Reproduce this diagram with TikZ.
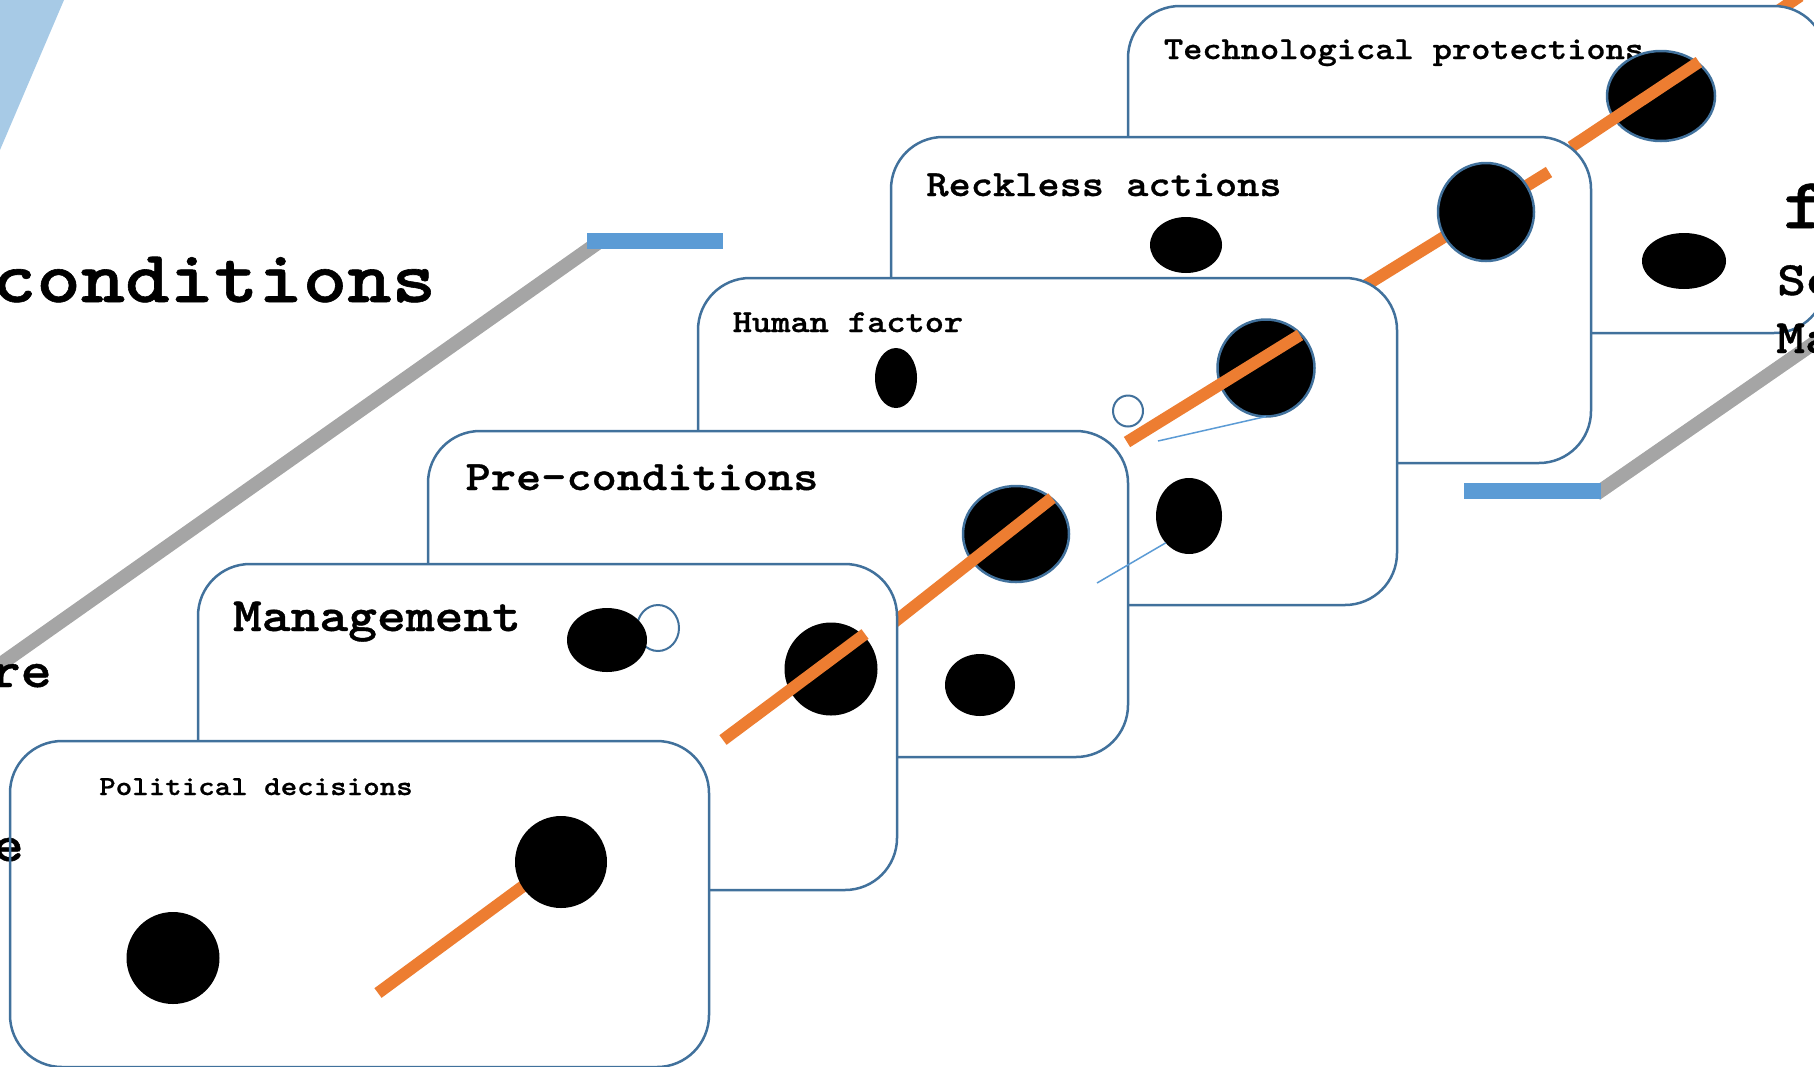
\documentclass[tikz,border=0pt]{standalone}
\usepackage{fontspec}
\usetikzlibrary{shapes.geometric}

\definecolor{cardblue}{HTML}{41719C}
\definecolor{linkblue}{HTML}{5B9BD5}
\definecolor{barblue}{HTML}{5B9BD5}
\definecolor{shelfgray}{HTML}{A5A5A5}
\definecolor{trajorange}{HTML}{ED7D31}
\definecolor{wedgeblue}{HTML}{A7CAE6}

% heavy slab monospace, widened to Courier-like advance widths
\newfontfamily\slabmono{lmmonolt10-bold.otf}[FakeStretch=1.143, FakeBold=0.8]
\newcommand\typesz[1]{\slabmono\fontsize{#1}{#1}\selectfont}

\tikzset{
  card/.style={draw=cardblue, line width=2.5pt, fill=white, rounded corners=52pt},
  cardedge/.style={draw=cardblue, line width=2.5pt, rounded corners=52pt},
  cardfill/.style={fill=white, rounded corners=52pt},
  hole/.style={ellipse, fill=black, inner sep=0pt, outer sep=0pt},
  rimhole/.style={ellipse, fill=black, draw=cardblue, line width=2.5pt, inner sep=0pt, outer sep=0pt},
  ring/.style={ellipse, draw=cardblue, line width=2pt, inner sep=0pt, outer sep=0pt},
  trajline/.style={draw=trajorange, line width=12pt},
  thinlink/.style={draw=linkblue, line width=1.5pt},
  shelfbar/.style={draw=shelfgray, line width=14pt},
  cardtxt/.style={inner sep=0pt, anchor=base},
  edgetxt/.style={inner sep=0pt},
}

\begin{document}
\begin{tikzpicture}[x=1pt, y=-1pt]
\useasboundingbox (0,0) rectangle (1814,1066);
\clip (0,0) rectangle (1814,1066);

% corner wedge and headline word
\fill[wedgeblue] (0,0) -- (64,0) -- (0,150) -- cycle;
\node[cardtxt, font=\typesz{74}] (headword) at (214,302) {conditions};

% left shelf: diagonal edge and blue top strip
\coordinate (shelfLlow) at (-12,673);
\coordinate (shelfLtop) at (599,242);
\draw[shelfbar] (shelfLlow) -- (shelfLtop);
\fill[barblue] (587,233) rectangle (723,249);

% right shelf
\coordinate (shelfRlow) at (1596,494);
\coordinate (shelfRtop) at (1830,332);
\draw[shelfbar] (shelfRlow) -- (shelfRtop);
\fill[barblue] (1464,483) rectangle (1601,499);

% trajectory piece on a card further back
\coordinate (trajAa) at (1762,22);
\coordinate (trajAb) at (1800,-4);
\draw[trajline] (trajAa) -- (trajAb);

% ---- card 6: technological protections
\draw[card] (1128,6) rectangle (1826,333);
\node[cardtxt, font=\typesz{32}] (t6) at (1404,59) {Technological protections};
\node[hole, minimum width=84pt, minimum height=56pt] (h6b) at (1684,261) {};
\node[rimhole, minimum width=108pt, minimum height=90pt] (h6a) at (1661,96) {};
\coordinate (traj6a) at (1571,147);
\coordinate (traj6b) at (1699,62);
\draw[trajline] (traj6a) -- (traj6b);

% ---- card 5: reckless actions
\draw[card] (891,137) rectangle (1591,463);
\node[cardtxt, font=\typesz{37}] (t5) at (1104,196) {Reckless actions};
\node[hole, minimum width=72pt, minimum height=56pt] (h5b) at (1186,245) {};
\coordinate (traj5a) at (1355,292);
\coordinate (traj5b) at (1549,172);
\draw[trajline] (traj5a) -- (traj5b);
\node[rimhole, minimum width=96pt, minimum height=98pt] (h5a) at (1486,212) {};

% ---- card 4: human factor
\draw[card] (698,278) rectangle (1397,605);
\node[cardtxt, font=\typesz{32}] (t4) at (848,332) {Human factor};
\node[hole, minimum width=42pt, minimum height=60pt] (h4c) at (896,378) {};
\node[hole, minimum width=66pt, minimum height=76pt] (h4b) at (1189,516) {};
\node[ring, minimum width=30pt, minimum height=31pt] (r4) at (1128,411) {};
\node[rimhole, minimum width=97pt, minimum height=97pt] (h4a) at (1266,368) {};
\coordinate (traj4a) at (1127,442);
\coordinate (traj4b) at (1300,335);
\draw[trajline] (traj4a) -- (traj4b);

% ---- card 3: pre-conditions
\draw[card] (428,431) rectangle (1128,757);
\node[cardtxt, font=\typesz{42}] (t3) at (642,490) {Pre-conditions};
\node[hole, minimum width=70pt, minimum height=62pt] (h3b) at (980,685) {};
\node[rimhole, minimum width=106pt, minimum height=96pt] (h3a) at (1016,534) {};
\coordinate (traj3a) at (888,627);
\coordinate (traj3b) at (1052,498);
\draw[trajline] (traj3a) -- (traj3b);

% pointer lines from the human-factor holes
\coordinate (tail4a) at (1158,441);
\coordinate (tail4b) at (1097,583);
\draw[thinlink] (h4a.south) -- (tail4a);
\draw[thinlink] (h4b.south west) -- (tail4b);

% ---- card 2: management
\draw[card] (198,564) rectangle (897,890);
\node[cardtxt, font=\typesz{48}] (t2) at (377,631) {Management};
\node[ring, minimum width=42pt, minimum height=46pt] (r2) at (658,628) {};
\node[hole, minimum width=80pt, minimum height=64pt] (h2b) at (607,640) {};
\node[hole, minimum width=93pt, minimum height=93pt] (h2a) at (831,669) {};
\coordinate (traj2a) at (723,740);
\coordinate (traj2b) at (865,634);
\draw[trajline] (traj2a) -- (traj2b);

% ---- card 1: political decisions (front)
\fill[cardfill] (10,741) rectangle (709,1067);
\node[edgetxt, anchor=base east, font=\typesz{52}] (sideE) at (24,861) {e};
\draw[cardedge] (10,741) rectangle (709,1067);
\node[cardtxt, font=\typesz{27.5}] (t1) at (256,795) {Political decisions};
\coordinate (traj1a) at (378,993);
\coordinate (traj1b) at (545,870);
\draw[trajline] (traj1a) -- (traj1b);
\node[hole, minimum width=92pt, minimum height=92pt] (h1a) at (561,862) {};
\node[hole, minimum width=93pt, minimum height=92pt] (h1b) at (173,958) {};

% words running off the edges
\node[edgetxt, anchor=base east, font=\typesz{52}] (sideRe) at (52,687) {re};
\node[edgetxt, anchor=base west, font=\typesz{72}] (sideF) at (1783,228) {f};
\node[edgetxt, anchor=base west, font=\typesz{48}] (sideSe) at (1777,295) {Se};
\node[edgetxt, anchor=base west, font=\typesz{48}] (sideMa) at (1776,353) {Ma};
\end{tikzpicture}
\end{document}
